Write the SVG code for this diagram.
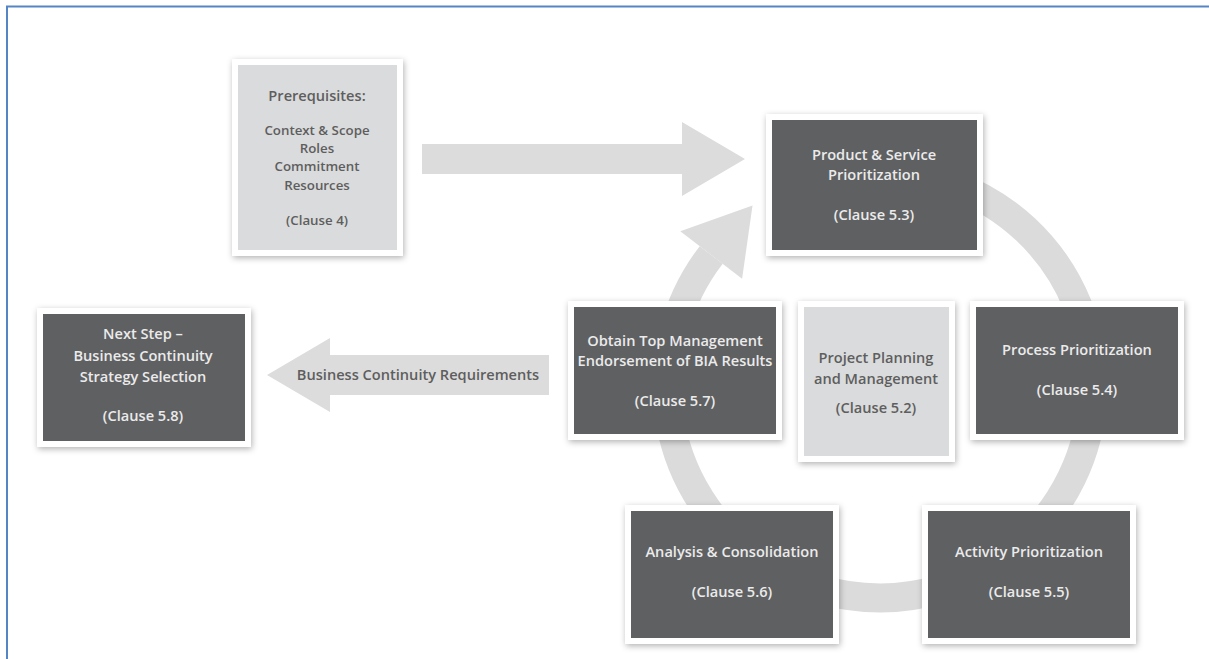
<svg xmlns="http://www.w3.org/2000/svg" width="1209" height="659" viewBox="0 0 1209 659">
<defs>
<filter id="sh" x="-10%" y="-10%" width="125%" height="130%">
<feDropShadow dx="1" dy="2" stdDeviation="3" flood-color="#000" flood-opacity="0.3"/>
</filter>
<style>
.outer{fill:#ffffff;filter:url(#sh)}
.dark{fill:#5f6062}
.light{fill:#dadbdc}
.flow{fill:#dcdcdc}
.ring{fill:none;stroke:#dbdbdb;stroke-width:29}
.t{font-family:"Open Sans","Liberation Sans",sans-serif;font-weight:600;font-size:14.6px;text-anchor:middle}
.tw{fill:#ebebeb}
.tg{fill:#5e5e5e}
.small{font-size:13.3px}
</style>
</defs>
<rect width="1209" height="659" fill="#ffffff"/>
<path d="M7,659 V6.5 H1209" fill="none" stroke="#5585c5" stroke-width="2"/>

<g id="connectors">
<path class="ring" d="M953,184.8 A213,213 0 1 1 711.2,255"/>
<polygon class="flow" points="680.3,231.2 752.5,205.6 742.1,278.8"/>
<polygon class="flow" points="422,144 682,144 682,122 745,159 682,196 682,174 422,174"/>
<polygon class="flow" points="549,355 330,355 330,338 267,375 330,412 330,395 549,395"/>
<text class="t tg" x="418" y="380">Business Continuity Requirements</text>
</g>

<g id="prerequisites">
<rect class="outer" x="232" y="59" width="171" height="197"/>
<rect class="light" x="238" y="65" width="159" height="185"/>
<text class="t tg" x="317" y="101">Prerequisites:</text>
<text class="t tg small" x="317" y="135">Context &amp; Scope</text>
<text class="t tg small" x="317" y="153">Roles</text>
<text class="t tg small" x="317" y="171">Commitment</text>
<text class="t tg small" x="317" y="190">Resources</text>
<text class="t tg small" x="317" y="225">(Clause 4)</text>
</g>

<g id="product-service">
<rect class="outer" x="766" y="114" width="217" height="142"/>
<rect class="dark" x="772" y="120" width="205" height="130"/>
<text class="t tw" x="874" y="160">Product &amp; Service</text>
<text class="t tw" x="874" y="180">Prioritization</text>
<text class="t tw" x="874" y="220">(Clause 5.3)</text>
</g>

<g id="next-step">
<rect class="outer" x="37" y="308" width="214" height="139"/>
<rect class="dark" x="43" y="314" width="202" height="127"/>
<text class="t tw" x="143" y="339">Next Step –</text>
<text class="t tw" x="143" y="361">Business Continuity</text>
<text class="t tw" x="143" y="382">Strategy Selection</text>
<text class="t tw" x="143" y="421">(Clause 5.8)</text>
</g>

<g id="obtain-endorsement">
<rect class="outer" x="568" y="301" width="214" height="139"/>
<rect class="dark" x="574" y="307" width="202" height="127"/>
<text class="t tw" x="675" y="346">Obtain Top Management</text>
<text class="t tw" x="675" y="366">Endorsement of BIA Results</text>
<text class="t tw" x="675" y="406">(Clause 5.7)</text>
</g>

<g id="project-planning">
<rect class="outer" x="798" y="301" width="157" height="161"/>
<rect class="light" x="804" y="307" width="145" height="149"/>
<text class="t tg" x="876" y="363">Project Planning</text>
<text class="t tg" x="876" y="384">and Management</text>
<text class="t tg" x="876" y="413">(Clause 5.2)</text>
</g>

<g id="process-prioritization">
<rect class="outer" x="970" y="301" width="214" height="139"/>
<rect class="dark" x="976" y="307" width="202" height="127"/>
<text class="t tw" x="1077" y="355">Process Prioritization</text>
<text class="t tw" x="1077" y="395">(Clause 5.4)</text>
</g>

<g id="analysis-consolidation">
<rect class="outer" x="625" y="505" width="214" height="139"/>
<rect class="dark" x="631" y="511" width="202" height="127"/>
<text class="t tw" x="732" y="557">Analysis &amp; Consolidation</text>
<text class="t tw" x="732" y="597">(Clause 5.6)</text>
</g>

<g id="activity-prioritization">
<rect class="outer" x="922" y="505" width="214" height="139"/>
<rect class="dark" x="928" y="511" width="202" height="127"/>
<text class="t tw" x="1029" y="557">Activity Prioritization</text>
<text class="t tw" x="1029" y="597">(Clause 5.5)</text>
</g>
</svg>
